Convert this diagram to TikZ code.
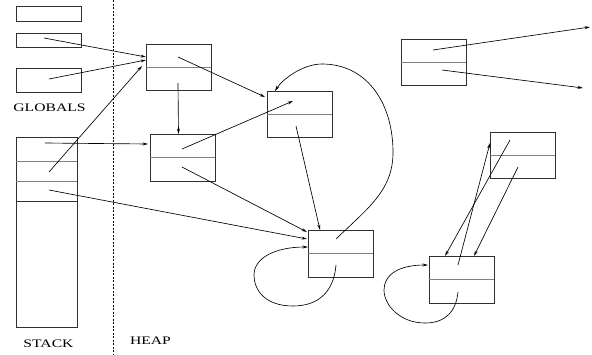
\documentclass[tikz,border=0pt]{standalone}
\usepackage{fontspec}
\usepackage{graphicx}
\setmainfont{Liberation Serif}
\usetikzlibrary{arrows.meta}
\definecolor{boxc}{HTML}{303030}
\definecolor{divc}{HTML}{808080}
\tikzset{
  cellbox/.style={draw=boxc, line width=0.9pt, minimum width=65pt, minimum height=46pt, inner sep=0pt, outer sep=0pt},
  glob/.style={draw=boxc, line width=0.9pt, minimum width=65pt, inner sep=0pt, outer sep=0pt},
  divline/.style={draw=divc, line width=0.9pt},
  ptr/.style={draw=black, line width=0.65pt, -{Stealth[length=5.5pt,width=3pt]}},
  lbl/.style={inner sep=0pt, font=\fontsize{11.5}{12}\selectfont}
}
\newcommand{\wide}[1]{\scalebox{1.36}[1]{#1}}
\begin{document}
\begin{tikzpicture}[x=1pt,y=-1pt]
\useasboundingbox (0,0) rectangle (592,354);
% separator
\draw[line width=0.8pt, dash pattern=on 2pt off 1.5pt] (113,0) -- (113,354);
% globals
\node[glob, minimum height=15pt] (g1) at (48.5,13.5) {};
\node[glob, minimum height=14pt] (g2) at (48.5,40) {};
\node[glob, minimum height=24pt] (g3) at (48.5,80) {};
\node[lbl] (globals) at (49.5,108) {\wide{GLOBALS}};
% stack
\node[draw=boxc, line width=0.9pt, minimum width=61pt, minimum height=190pt, inner sep=0pt, outer sep=0pt] (stack) at (46.5,232) {};
\draw[divline] (16,161) -- (77,161);
\draw[divline] (16,181) -- (77,181);
\draw[boxc, line width=0.9pt] (16,201) -- (77,201);
\node[lbl] (stacklbl) at (48.5,343.5) {\wide{STACK}};
\node[lbl] (heaplbl) at (150.5,340.5) {\wide{HEAP}};
% heap cells
\node[cellbox] (A) at (178.5,67) {};
\node[cellbox, minimum height=47pt] (B) at (182.5,157.5) {};
\node[cellbox] (C) at (299.5,114) {};
\node[cellbox, minimum height=47pt] (D) at (340.5,253.5) {};
\node[cellbox] (E) at (433.5,62) {};
\node[cellbox] (F) at (522.5,155) {};
\node[cellbox, minimum height=47pt] (G) at (461.5,279.5) {};
\foreach \n in {A,B,C,D,E,F,G} \draw[divline] (\n.west) -- (\n.east);
% pointer coordinates
\coordinate (s2) at (44,38);
\coordinate (s3) at (49,79);
\coordinate (k1) at (45,143);
\coordinate (k2) at (49,172);
\coordinate (k3) at (49,190);
\coordinate (a1) at (178,57);
\coordinate (a2) at (178,83);
\coordinate (b1) at (182,149);
\coordinate (b2) at (182,167);
\coordinate (c1) at (293,101);
\coordinate (c2) at (296,126);
\coordinate (d1) at (336,239);
\coordinate (d2) at (336,265);
\coordinate (e1) at (433,50);
\coordinate (e2) at (442,70);
\coordinate (f1) at (510,140);
\coordinate (f2) at (518,167);
\coordinate (gg1) at (458,265);
\coordinate (gg2) at (458,292);
\coordinate (ea) at (590,27);
\coordinate (eb) at (583,88);
% arrows
\draw[ptr] (s2) -- (146,57);
\draw[ptr] (s3) -- (146,60);
\draw[ptr] (k2) -- (142,66);
\draw[ptr] (a1) -- (265,97);
\draw[ptr] (a2) -- (A.south |- B.north);
\draw[ptr] (k1) -- (148,144);
\draw[ptr] (b1) -- (c1);
\draw[ptr] (b2) -- (307,232);
\draw[ptr] (k3) -- (307,239);
\draw[ptr] (c2) -- (320,230);
\draw[ptr] (d1) .. controls (368,208) and (394,190) .. (393,150)
  .. controls (392,100) and (365,64) .. (322,64)
  .. controls (302,64) and (282,80) .. (275,91);
\draw[ptr] (d2) .. controls (334,290) and (320,306) .. (293,306)
  .. controls (265,306) and (254,290) .. (254,275)
  .. controls (254,258) and (275,247) .. (308,247);
\draw[ptr] (e1) -- (ea);
\draw[ptr] (e2) -- (eb);
\draw[ptr] (f1) -- (445,256);
\draw[ptr] (f2) -- (474,256);
\draw[ptr] (gg1) -- (490,143);
\draw[ptr] (gg2) .. controls (456,312) and (445,323) .. (425,323)
  .. controls (400,323) and (384,305) .. (384,290)
  .. controls (384,275) and (398,265) .. (428,265);
\end{tikzpicture}
\end{document}
